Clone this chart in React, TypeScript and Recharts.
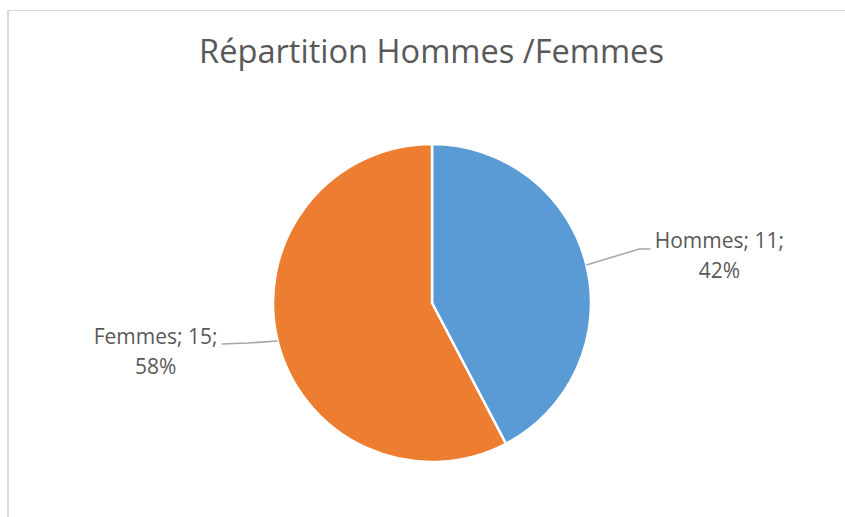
import React from "react";
import { PieChart, Pie, Cell } from "recharts";

const categories = ["Hommes", "Femmes"];
const values = [11, 15];
const colors = ["#5B9BD5", "#ED7D31"];
const title = "Répartition Hommes /Femmes";

const data = categories.map((name, i) => ({ name, value: values[i] }));

const RAD = Math.PI / 180;
const FONT = "'Open Sans', 'Noto Sans', sans-serif";
const TEXT_COLOR = "#595959";

// label layout per slice (relative to the slice's outer edge point)
const labelLayout = [
  { line: [[53, -16], [64, -16]], tx: 133, ty1: -17, ty2: 13 },
  { line: [[-30, 2], [-56, 3]], tx: -122, ty1: 3, ty2: 33 },
];

const renderLabel = (props: any) => {
  const { cx, cy, midAngle, outerRadius, index, name, value, percent } = props;
  const ex = cx + outerRadius * Math.cos(-midAngle * RAD);
  const ey = cy + outerRadius * Math.sin(-midAngle * RAD);
  const L = labelLayout[index];
  const pts = [[ex, ey], ...L.line.map(([dx, dy]) => [ex + dx, ey + dy])]
    .map((p) => p.join(","))
    .join(" ");
  return (
    <g key={`lbl-${index}`}>
      <polyline points={pts} fill="none" stroke="#A6A6A6" strokeWidth={1.5} />
      <text
        x={ex + L.tx}
        y={ey + L.ty1}
        textAnchor="middle"
        fontFamily={FONT}
        fontSize={21}
        fill={TEXT_COLOR}
      >
        {`${name}; ${value};`}
      </text>
      <text
        x={ex + L.tx}
        y={ey + L.ty2}
        textAnchor="middle"
        fontFamily={FONT}
        fontSize={21}
        fill={TEXT_COLOR}
      >
        {`${Math.round(percent * 100)}%`}
      </text>
    </g>
  );
};

export default function App() {
  return (
    <div
      style={{
        position: "absolute",
        left: 0,
        top: 0,
        width: 845,
        height: 517,
        background: "#fff",
        overflow: "hidden",
      }}
    >
      <div
        style={{
          position: "absolute",
          left: 7,
          top: 10,
          width: 845,
          height: 520,
          borderLeft: "2px solid #D9D9D9",
          borderTop: "1px solid #D9D9D9",
          boxSizing: "border-box",
        }}
      />
      <div
        style={{
          position: "absolute",
          left: 0,
          width: 863,
          top: 26,
          textAlign: "center",
          fontFamily: FONT,
          fontSize: 32.6,
          lineHeight: "50px",
          color: TEXT_COLOR,
          whiteSpace: "nowrap",
        }}
      >
        {title}
      </div>
      <div style={{ position: "absolute", left: 0, top: 0 }}>
        <PieChart width={845} height={517} margin={{ top: 0, right: 0, bottom: 0, left: 0 }}>
          <Pie
            data={data}
            dataKey="value"
            nameKey="name"
            cx={432}
            cy={303}
            outerRadius={159}
            startAngle={90}
            endAngle={-270}
            stroke="#FFFFFF"
            strokeWidth={2.5}
            label={renderLabel}
            labelLine={false}
            isAnimationActive={false}
          >
            {data.map((d, i) => (
              <Cell key={d.name} fill={colors[i]} />
            ))}
          </Pie>
        </PieChart>
      </div>
    </div>
  );
}
